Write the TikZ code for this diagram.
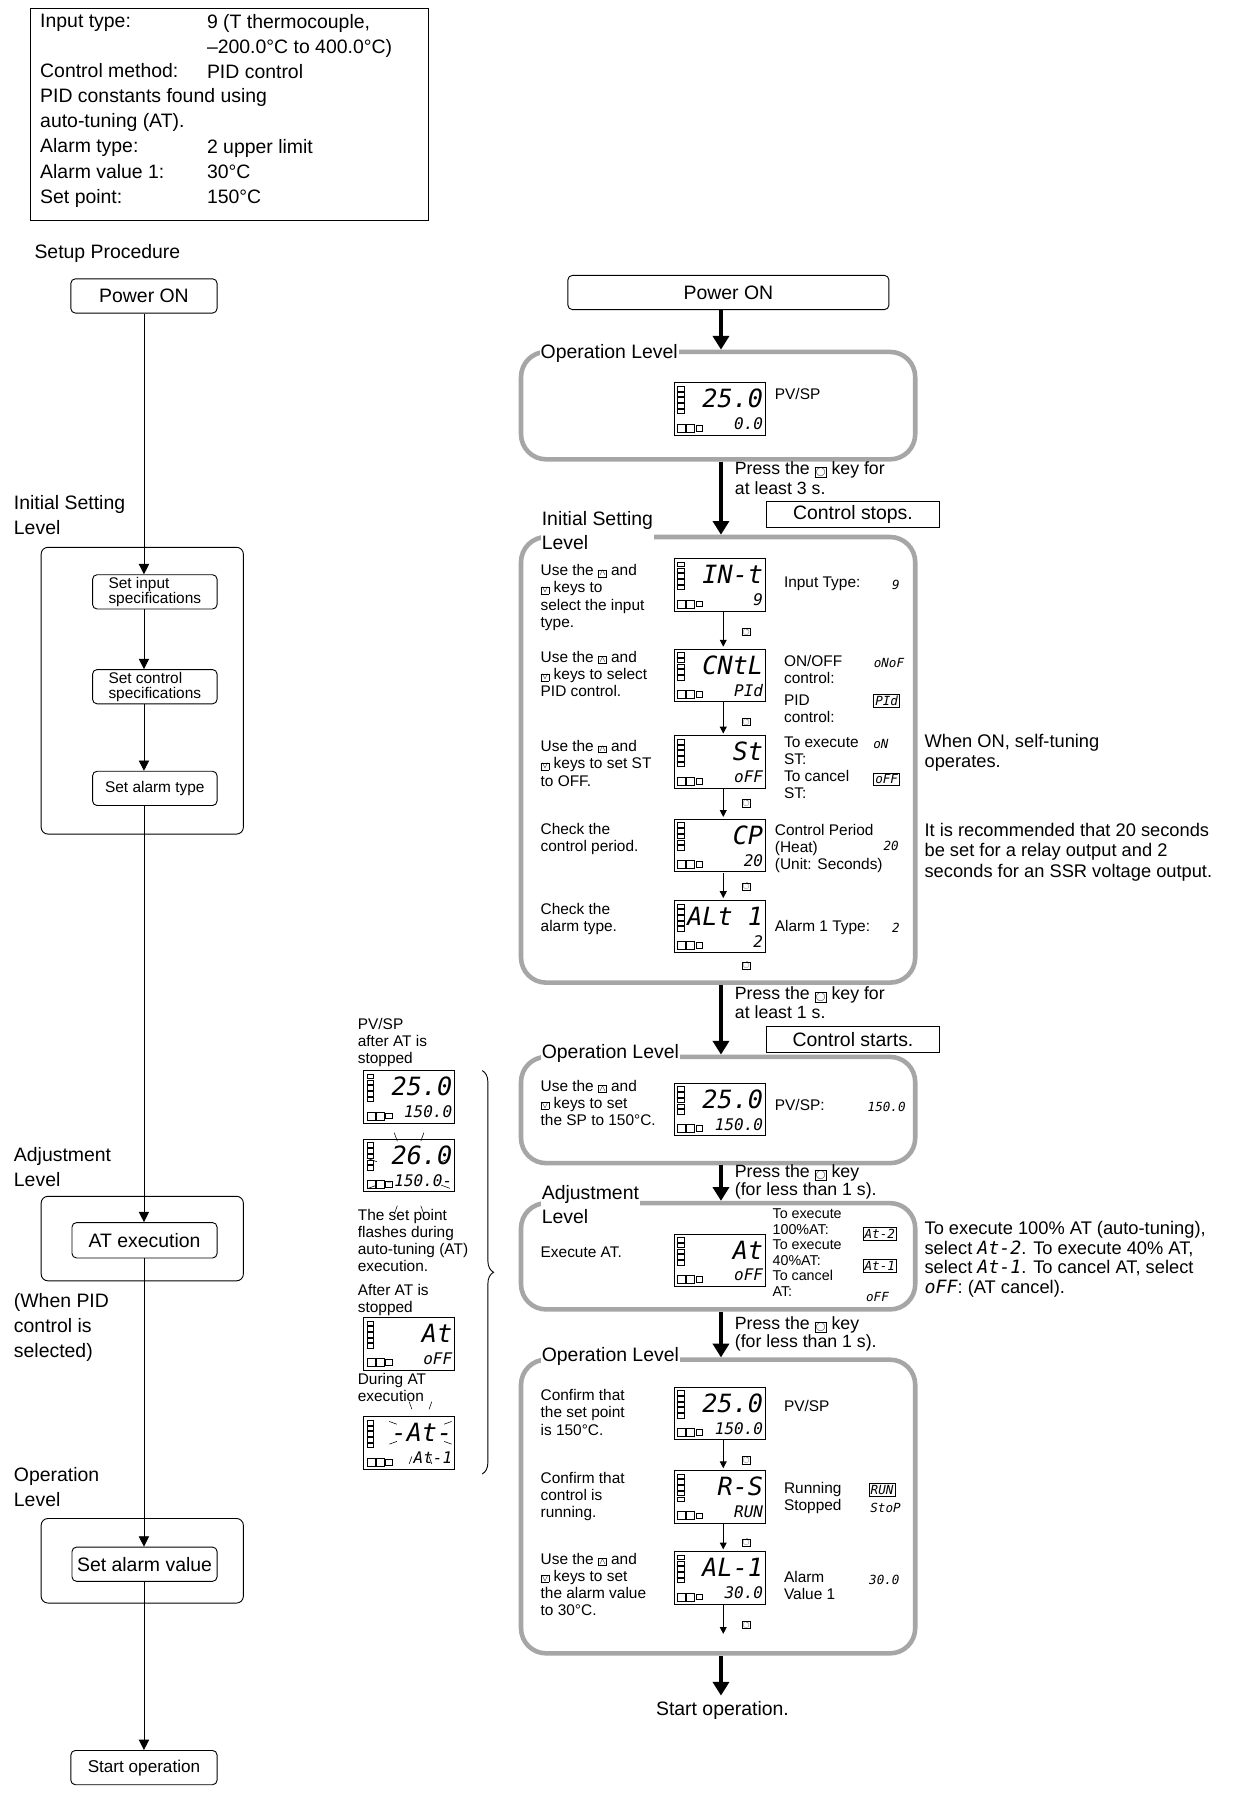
\documentclass[tikz,border=0pt]{standalone}
\usepackage{fontspec}
\setmainfont{Liberation Sans}
\newfontfamily\segf{DejaVu Sans Mono}
\usepackage{amssymb}
\usetikzlibrary{arrows.meta,decorations.pathreplacing}
\newcommand\kb[1]{{\setlength\fboxsep{0.6pt}\setlength\fboxrule{0.4pt}\fbox{\fontsize{8}{8}\selectfont$#1$}}}
\newcommand\sg[1]{{\segf\itshape #1}}
\newcommand\lcd[5][]{%
\begin{scope}[shift={(#2,#3)}]
\draw[line width=0.8] (0,0) rectangle (80,46);
\foreach \i in {0,...,4} \draw[line width=0.4] (3,3+5*\i) rectangle (9,7+5*\i);
\draw[line width=0.4] (3,36) rectangle (10,43) (11,36) rectangle (18,43) (19,37) rectangle (25,42);
\node[anchor=east,inner sep=0,font=\fontsize{22}{22}\selectfont\segf\itshape] at (78,14) {#4};
\node[anchor=east,inner sep=0,font=\fontsize{14}{14}\selectfont\segf\itshape] at (78,36) {#5};
#1
\end{scope}}
\tikzset{
 big/.style={anchor=north west,align=left,inner sep=0,font=\fontsize{17}{22}\selectfont},
 txt/.style={anchor=north west,align=left,inner sep=0,font=\fontsize{13.5}{15}\selectfont},
 sm/.style={anchor=north west,align=left,inner sep=0,font=\fontsize{12.5}{13.5}\selectfont},
 rbox/.style={draw,rounded corners=4,line width=0.8},
 panel/.style={draw=black!35,line width=4,rounded corners=22},
 thick arr/.style={line width=3.5,-{Triangle[length=12,width=14]}},
 thin arr/.style={line width=0.7,-{Triangle[length=9,width=9]}},
 sarr/.style={line width=0.9,-{Triangle[length=6,width=6]}},
 lab/.style={anchor=north west,align=left,inner sep=1,fill=white,font=\fontsize{17}{21}\selectfont},
 seg/.style={inner sep=0,font=\fontsize{11}{11}\selectfont\segf\itshape},
 loop/.style={draw,inner sep=0.5,font=\fontsize{8}{8}\selectfont},
}
\begin{document}
\begin{tikzpicture}[x=1pt,y=-1pt]
\path[use as bounding box,fill=white] (0,0) rectangle (1080,1571);
% top box
\draw[line width=0.8] (27,7) rectangle (375,193);
\node[big] at (35,12) {Input type:\\[22pt]Control method:\\PID constants found using\\auto-tuning (AT).\\Alarm type:\\Alarm value 1:\\Set point:};
\node[big] at (181,12) {9 (T thermocouple,\\--200.0°C to 400.0°C)\\PID control\\[44pt]2 upper limit\\30°C\\150°C};
\node[big] at (30,214) {Setup Procedure};
% left column
\node[rbox,minimum width=128,minimum height=30,font=\fontsize{17}{20}\selectfont] (lp) at (126,259) {Power ON};
\node[big] at (12,433) {Initial Setting\\Level};
\draw[rounded corners=6,line width=0.8] (36,479) rectangle (213,730);
\node[rbox,minimum width=109,minimum height=30,font=\fontsize{13.5}{13}\selectfont,align=left,inner sep=1] (l1) at (135.5,518) {Set input\\specifications};
\node[rbox,minimum width=109,minimum height=30,font=\fontsize{13.5}{13}\selectfont,align=left,inner sep=1] (l2) at (135.5,601) {Set control\\specifications};
\node[rbox,minimum width=109,minimum height=30,font=\fontsize{13.5}{13}\selectfont] (l3) at (135.5,690) {Set alarm type};
\node[big] at (12,1004) {Adjustment\\Level};
\draw[rounded corners=6,line width=0.8] (36,1047) rectangle (213,1121);
\node[rbox,minimum width=127,minimum height=31,font=\fontsize{17}{20}\selectfont] (l4) at (126.5,1085.5) {AT execution};
\node[big] at (12,1132) {(When PID\\control is\\selected)};
\node[big] at (12,1284) {Operation\\Level};
\draw[rounded corners=6,line width=0.8] (36,1329) rectangle (213,1403);
\node[rbox,minimum width=127,minimum height=30,font=\fontsize{17}{20}\selectfont] (l5) at (126.5,1369) {Set alarm value};
\node[rbox,minimum width=128,minimum height=30,font=\fontsize{15}{20}\selectfont] (l6) at (126,1547) {Start operation};
\draw[thin arr] (lp) -- (l1.north -| lp);
\draw[thin arr] (l1.south -| lp) -- (l2.north -| lp);
\draw[thin arr] (l2.south -| lp) -- (l3.north -| lp);
\draw[thin arr] (l3.south -| lp) -- (l4.north -| lp);
\draw[thin arr] (l4.south -| lp) -- (l5.north -| lp);
\draw[thin arr] (l5.south -| lp) -- (l6.north -| lp);
% right column
\node[rbox,minimum width=281,minimum height=30,font=\fontsize{17}{20}\selectfont] (rp) at (637.5,256) {Power ON};
\draw[panel] (456,308) rectangle (801,402);
\node[lab] (p1) at (472,300) {Operation Level};
\lcd{590}{335}{25.0}{0.0}
\node[txt] at (678,340) {PV/SP};
\draw[thick arr] (rp.south -| 631,0) -- (631,306);
\draw[thick arr] (631,404) -- (631,468);
\node[big,font=\fontsize{15.5}{17}\selectfont] at (643,404) {Press the \kb{\bigcirc} key for\\at least 3 s.};
\node[draw,line width=0.8,minimum width=151,minimum height=23,font=\fontsize{17}{20}\selectfont] at (746.5,450.5) {Control stops.};
% initial setting panel
\draw[panel] (456,470) rectangle (801,860);
\node[lab] at (473,446) {Initial Setting\\Level};
\node[txt] at (473,494) {Use the \kb{\wedge} and\\\kb{\vee} keys to\\select the input\\type.};
\lcd{590}{489}{IN-t}{9}
\node[txt] at (686,505) {Input Type:};
\node[seg] at (784,512) {9};
\draw[sarr] (633,535) -- (633,566); \node[loop] at (653,553) {$\circlearrowleft$};
\node[txt] at (473,570) {Use the \kb{\wedge} and\\\kb{\vee} keys to select\\PID control.};
\lcd{590}{568}{CNtL}{PId}
\node[txt] at (686,573) {ON/OFF\\control:};
\node[seg] at (778,580) {oNoF};
\node[txt] at (686,608) {PID\\control:};
\node[seg,draw,inner sep=1.5] at (776,613) {PId};
\draw[sarr] (633,614) -- (633,642); \node[loop] at (653,632) {$\circlearrowleft$};
\node[txt] at (473,648) {Use the \kb{\wedge} and\\\kb{\vee} keys to set ST\\to OFF.};
\lcd{590}{644}{St}{oFF}
\node[txt] at (686,645) {To execute\\ST:};
\node[seg] at (771,651) {oN};
\node[txt] at (686,674) {To cancel\\ST:};
\node[seg,draw,inner sep=1.5] at (776,682) {oFF};
\draw[sarr] (633,690) -- (633,715); \node[loop] at (653,703) {$\circlearrowleft$};
\node[txt] at (473,720) {Check the\\control period.};
\lcd{590}{717}{CP}{20}
\node[txt] at (678,721) {Control Period\\(Heat)\\(Unit: Seconds)};
\node[seg] at (780,740) {20};
\draw[sarr] (633,764) -- (633,786); \node[loop] at (653,776) {$\circlearrowleft$};
\node[txt] at (473,790) {Check the\\alarm type.};
\lcd{590}{788}{ALt 1}{2}
\node[txt] at (678,805) {Alarm 1 Type:};
\node[seg] at (784,812) {2};
\node[loop] at (653,845) {$\circlearrowleft$};
\node[big,font=\fontsize{16}{18}\selectfont] at (809,642) {When ON, self-tuning\\operates.};
\node[big,font=\fontsize{16}{18}\selectfont] at (809,720) {It is recommended that 20 seconds\\be set for a relay output and 2\\seconds for an SSR voltage output.};
% op level 2
\draw[thick arr] (631,862) -- (631,923);
\node[big,font=\fontsize{15.5}{17}\selectfont] at (643,863) {Press the \kb{\bigcirc} key for\\at least 1 s.};
\node[draw,line width=0.8,minimum width=151,minimum height=23,font=\fontsize{17}{20}\selectfont] at (746.5,909.5) {Control starts.};
\draw[panel] (456,925) rectangle (801,1018);
\node[lab] at (473,913) {Operation Level};
\node[txt] at (473,945) {Use the \kb{\wedge} and\\\kb{\vee} keys to set\\the SP to 150°C.};
\lcd{590}{948}{25.0}{150.0}
\node[txt] at (678,962) {PV/SP:};
\node[seg] at (776,969) {150.0};
% adjustment
\draw[thick arr] (631,1020) -- (631,1051);
\node[big,font=\fontsize{15.5}{16}\selectfont] at (643,1019) {Press the \kb{\bigcirc} key\\(for less than 1 s).};
\draw[panel] (456,1053) rectangle (801,1146);
\node[lab] at (473,1036) {Adjustment\\Level};
\node[txt] at (473,1091) {Execute AT.};
\lcd{590}{1080}{At}{oFF}
\node[sm,fill=white] at (676,1058) {To execute\\100\%AT:\\To execute\\40\%AT:\\To cancel\\AT:};
\node[seg,draw,inner sep=1.5] at (770,1080) {At-2};
\node[seg,draw,inner sep=1.5] at (770,1108) {At-1};
\node[seg] at (768,1135) {oFF};
\node[big,font=\fontsize{16}{17}\selectfont] at (809,1069) {To execute 100\% AT (auto-tuning),\\select \sg{At-2}. To execute 40\% AT,\\select \sg{At-1}. To cancel AT, select\\\sg{oFF}: (AT cancel).};
% op level 3
\draw[thick arr] (631,1148) -- (631,1188);
\node[big,font=\fontsize{15.5}{16}\selectfont] at (643,1152) {Press the \kb{\bigcirc} key\\(for less than 1 s).};
\draw[panel] (456,1190) rectangle (801,1447);
\node[lab] at (473,1178) {Operation Level};
\node[txt] at (473,1216) {Confirm that\\the set point\\is 150°C.};
\lcd{590}{1214}{25.0}{150.0}
\node[txt] at (686,1225) {PV/SP};
\draw[sarr] (633,1260) -- (633,1285); \node[loop] at (653,1278) {$\circlearrowleft$};
\node[txt] at (473,1288) {Confirm that\\control is\\running.};
\lcd{590}{1287}{R-S}{RUN}
\node[txt] at (686,1297) {Running\\Stopped};
\node[seg,draw,inner sep=1.5] at (772,1304) {RUN};
\node[seg] at (775,1320) {StoP};
\draw[sarr] (633,1333) -- (633,1356); \node[loop] at (653,1350) {$\circlearrowleft$};
\node[txt] at (473,1359) {Use the \kb{\wedge} and\\\kb{\vee} keys to set\\the alarm value\\to 30°C.};
\lcd{590}{1358}{AL-1}{30.0}
\node[txt] at (686,1375) {Alarm\\Value 1};
\node[seg] at (774,1383) {30.0};
\draw[sarr] (633,1404) -- (633,1430); \node[loop] at (653,1422) {$\circlearrowleft$};
\draw[thick arr] (631,1449) -- (631,1484);
\node[big] (so) at (574,1489) {Start operation.};
% middle column
\node[txt] at (313,891) {PV/SP\\after AT is\\stopped};
\lcd{318}{937}{25.0}{150.0}
\lcd[{\foreach \a in {20,70,110,160,200,250,290,340} \draw[line width=0.5] (40,30)++(\a:30) -- ++(\a:8);}]{318}{997}{26.0}{-150.0-}
\node[txt] at (313,1058) {The set point\\flashes during\\auto-tuning (AT)\\execution.};
\node[txt] at (313,1124) {After AT is\\stopped};
\lcd{318}{1153}{At}{oFF}
\node[txt] at (313,1202) {During AT\\execution};
\lcd[{\foreach \a in {20,70,110,160,200,250,290,340} \draw[line width=0.5] (50,14)++(\a:22) -- ++(\a:7);}]{318}{1240}{-At-}{At-1}
\draw[line width=0.8,decorate,decoration={brace,amplitude=10}] (422,937) -- (422,1290);
\end{tikzpicture}
\end{document}
